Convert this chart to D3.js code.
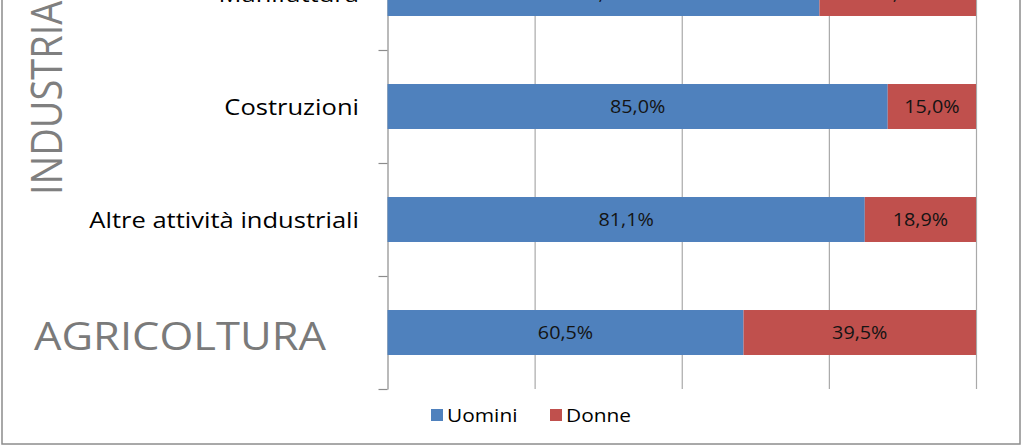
<!DOCTYPE html>
<html>
<head>
<meta charset="utf-8">
<script src="https://cdn.jsdelivr.net/npm/d3@7"></script>
<style>
  html, body { margin: 0; padding: 0; background: #fff; }
  svg { display: block; }
  text { font-family: "Open Sans", "Liberation Sans", sans-serif; }
</style>
</head>
<body>
<svg id="chart" width="1024" height="447"></svg>
<script>
// ---- data ----
const categories = ["Manifattura", "Costruzioni", "Altre attività industriali", "AGRICOLTURA"];
const subLabels  = ["Manifattura", "Costruzioni", "Altre attività industriali", ""];
const groupLabels = ["INDUSTRIA", "AGRICOLTURA"];
const uomini = [73.4, 85.0, 81.1, 60.5];
const donne  = [26.6, 15.0, 18.9, 39.5];
const seriesNames = ["Uomini", "Donne"];
const xTicks = [0, 25, 50, 75, 100];

// ---- layout ----
const W = 1024, H = 447;
const SX = 1.13; // horizontal stretch of text
const colors = ["#4f81bd", "#c0504d"];
const plot = { left: 387.5, right: 976, top: -63, bottom: 389 };

const svg = d3.select("#chart");
svg.append("rect").attr("x", 0).attr("y", 0).attr("width", W).attr("height", H).attr("fill", "#fff");

// outer border
svg.append("rect")
  .attr("x", 2).attr("y", -20).attr("width", 1018).attr("height", 464)
  .attr("fill", "none").attr("stroke", "#8c8c8c").attr("stroke-width", 1.5);

const x = d3.scaleLinear().domain([0, 100]).range([plot.left, plot.right]);
const y = d3.scaleBand().domain(categories).range([plot.top, plot.bottom])
  .paddingInner(0.602).paddingOuter(0.301);
const yEdge = d3.scaleLinear().domain([0, categories.length]).range([plot.top, plot.bottom]);

// vertical gridlines
const grid = svg.append("g").attr("transform", `translate(0,${plot.bottom})`)
  .call(d3.axisBottom(x).tickValues(xTicks.slice(1)).tickSize(-(plot.bottom - plot.top)).tickFormat(""));
grid.select(".domain").remove();
grid.selectAll(".tick line").attr("stroke", "#a9a9a9").attr("stroke-width", 1.2);

// y axis with ticks at category boundaries
const yAxis = svg.append("g").attr("transform", `translate(${plot.left},0)`)
  .call(d3.axisLeft(yEdge).tickValues(d3.range(1, categories.length + 1)).tickSize(9).tickFormat("").tickSizeOuter(0));
yAxis.select(".domain").attr("stroke", "#8c8c8c").attr("stroke-width", 1.2);
yAxis.selectAll(".tick line").attr("stroke", "#8c8c8c").attr("stroke-width", 1.2);

// stacked bars
const rows = categories.map((c, i) => ({ cat: c, vals: [uomini[i], donne[i]] }));
rows.forEach((r, i) => {
  let acc = 0;
  r.vals.forEach((v, k) => {
    const x0 = acc, x1 = acc + v;
    acc = x1;
    svg.append("rect")
      .attr("x", x(x0)).attr("y", y(r.cat))
      .attr("width", x(x1) - x(x0)).attr("height", y.bandwidth())
      .attr("fill", colors[k]);
    const cx = (x(x0) + x(x1)) / 2;
    const cy = y(r.cat) + y.bandwidth() / 2 + 6.5;
    svg.append("text")
      .attr("transform", `translate(${cx},${cy}) scale(${SX},1)`)
      .attr("text-anchor", "middle")
      .attr("font-size", 17.5)
      .attr("fill", "#141414")
      .text(d3.format(".1f")(v).replace(".", ",") + "%");
  });
});

// category labels
categories.forEach((c, i) => {
  if (!subLabels[i]) return;
  const cy = y(c) + y.bandwidth() / 2 + 8;
  svg.append("text")
    .attr("transform", `translate(359,${cy}) scale(${SX},1)`)
    .attr("text-anchor", "end")
    .attr("font-size", 22.6)
    .attr("fill", "#000")
    .text(subLabels[i]);
});

// group labels
svg.append("text")
  .attr("transform", `translate(62,195) scale(${SX},1) rotate(-90)`)
  .attr("text-anchor", "start")
  .attr("font-size", 38)
  .attr("fill", "#7f7f7f")
  .text(groupLabels[0]);

const agY = y(categories[3]) + y.bandwidth() / 2 + 17.5;
svg.append("text")
  .attr("transform", `translate(34,${agY}) scale(${SX},1)`)
  .attr("font-size", 38.5)
  .attr("fill", "#7a7a7a")
  .text(groupLabels[1]);

// legend
const legendX = [431, 550];
seriesNames.forEach((n, k) => {
  svg.append("rect").attr("x", legendX[k]).attr("y", 409).attr("width", 12).attr("height", 12).attr("fill", colors[k]);
  svg.append("text")
    .attr("transform", `translate(${legendX[k] + 16},422) scale(${SX},1)`)
    .attr("font-size", 18.5)
    .attr("fill", "#000")
    .text(n);
});
</script>
</body>
</html>
